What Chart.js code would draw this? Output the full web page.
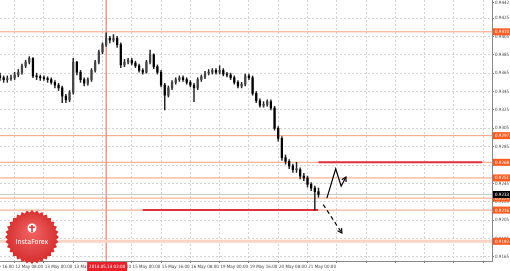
<!DOCTYPE html>
<html>
<head>
<meta charset="utf-8">
<script src="https://cdn.jsdelivr.net/npm/chart.js@4/dist/chart.umd.min.js"></script>
<style>
  html, body { margin: 0; padding: 0; background: #fff; }
  #wrap { width: 510px; height: 271px; }
</style>
</head>
<body>
<div id="wrap"><canvas id="chart"></canvas></div>
<script>
// H2 bars, USD/CHF, 11 May 16:00 -> 21 May 00:00
const opens = [
  0.9362, 0.9360, 0.9358, 0.9359, 0.9360, 0.9363, 0.9366, 0.9373, 0.9377, 0.9381,
  0.9362, 0.9361, 0.9360, 0.9359, 0.9358, 0.9355, 0.9352, 0.9349, 0.9340, 0.9336,
  0.9344, 0.9377, 0.9366, 0.9358, 0.9354, 0.9358, 0.9368, 0.9377, 0.9388, 0.9396,
  0.9403, 0.9401, 0.9403, 0.9396, 0.9374, 0.9377, 0.9379, 0.9376, 0.9373, 0.9368,
  0.9366, 0.9377, 0.9385, 0.9372, 0.9366, 0.9352, 0.9341, 0.9349, 0.9355, 0.9358,
  0.9360, 0.9358, 0.9355, 0.9352, 0.9349, 0.9358, 0.9361, 0.9365, 0.9366, 0.9368,
  0.9366, 0.9368, 0.9364, 0.9363, 0.9360, 0.9355, 0.9351, 0.9353, 0.9362, 0.9360,
  0.9343, 0.9335, 0.9330, 0.9331, 0.9334, 0.9327, 0.9305, 0.9294, 0.9273, 0.9269,
  0.9264, 0.9260, 0.9260, 0.9253, 0.9251, 0.9244, 0.9240, 0.9236
];
const highs = [
  0.9365, 0.9362, 0.9362, 0.9363, 0.9366, 0.9369, 0.9375, 0.9379, 0.9383, 0.9382,
  0.9365, 0.9363, 0.9362, 0.9361, 0.9360, 0.9357, 0.9354, 0.9351, 0.9342, 0.9346,
  0.9381, 0.9378, 0.9368, 0.9360, 0.9360, 0.9370, 0.9379, 0.9390, 0.9398, 0.9409,
  0.9405, 0.9407, 0.9405, 0.9398, 0.9380, 0.9381, 0.9381, 0.9378, 0.9375, 0.9370,
  0.9379, 0.9390, 0.9386, 0.9374, 0.9368, 0.9354, 0.9351, 0.9357, 0.9360, 0.9362,
  0.9362, 0.9360, 0.9357, 0.9354, 0.9360, 0.9363, 0.9367, 0.9369, 0.9370, 0.9370,
  0.9373, 0.9370, 0.9366, 0.9365, 0.9362, 0.9357, 0.9355, 0.9364, 0.9364, 0.9362,
  0.9345, 0.9337, 0.9334, 0.9336, 0.9336, 0.9329, 0.9307, 0.9296, 0.9276, 0.9271,
  0.9266, 0.9268, 0.9262, 0.9256, 0.9253, 0.9246, 0.9242, 0.9240
];
const lows = [
  0.9357, 0.9355, 0.9355, 0.9357, 0.9358, 0.9361, 0.9364, 0.9371, 0.9375, 0.9360,
  0.9358, 0.9357, 0.9357, 0.9355, 0.9353, 0.9349, 0.9346, 0.9333, 0.9333, 0.9334,
  0.9342, 0.9363, 0.9355, 0.9351, 0.9352, 0.9356, 0.9366, 0.9375, 0.9386, 0.9394,
  0.9398, 0.9399, 0.9393, 0.9371, 0.9372, 0.9375, 0.9374, 0.9371, 0.9366, 0.9364,
  0.9365, 0.9375, 0.9370, 0.9364, 0.9350, 0.9325, 0.9339, 0.9347, 0.9353, 0.9356,
  0.9356, 0.9353, 0.9350, 0.9334, 0.9347, 0.9356, 0.9359, 0.9363, 0.9364, 0.9364,
  0.9364, 0.9362, 0.9361, 0.9358, 0.9353, 0.9349, 0.9349, 0.9351, 0.9358, 0.9341,
  0.9333, 0.9328, 0.9328, 0.9329, 0.9325, 0.9303, 0.9291, 0.9270, 0.9266, 0.9261,
  0.9257, 0.9257, 0.9250, 0.9248, 0.9241, 0.9237, 0.9216, 0.9230
];
const closes = [
  0.9360, 0.9358, 0.9359, 0.9360, 0.9363, 0.9366, 0.9373, 0.9377, 0.9381, 0.9362,
  0.9361, 0.9360, 0.9359, 0.9358, 0.9355, 0.9352, 0.9349, 0.9340, 0.9336, 0.9344,
  0.9377, 0.9366, 0.9358, 0.9354, 0.9358, 0.9368, 0.9377, 0.9388, 0.9396, 0.9403,
  0.9401, 0.9403, 0.9396, 0.9374, 0.9377, 0.9379, 0.9376, 0.9373, 0.9368, 0.9366,
  0.9377, 0.9385, 0.9372, 0.9366, 0.9352, 0.9341, 0.9349, 0.9355, 0.9358, 0.9360,
  0.9358, 0.9355, 0.9352, 0.9349, 0.9358, 0.9361, 0.9365, 0.9366, 0.9368, 0.9366,
  0.9368, 0.9364, 0.9363, 0.9360, 0.9355, 0.9351, 0.9353, 0.9362, 0.9360, 0.9343,
  0.9335, 0.9330, 0.9331, 0.9334, 0.9327, 0.9305, 0.9294, 0.9273, 0.9269, 0.9264,
  0.9260, 0.9260, 0.9253, 0.9251, 0.9244, 0.9240, 0.9236, 0.9233
];

// axis
const gridBars = [0, 8, 16, 24, 32, 40, 48, 56, 64, 72, 80, 88, 96, 104, 112, 120, 128];
const timeLabels = ['11 May 16:00', '12 May 08:00', '13 May 00:00', '13 May 16:00', '14 May 08:00',
  '15 May 00:00', '15 May 16:00', '16 May 08:00', '19 May 00:00', '19 May 16:00', '20 May 08:00', '21 May 00:00'];
const priceTicks = [0.9165, 0.9185, 0.9205, 0.9225, 0.9245, 0.9265, 0.9285, 0.9305, 0.9325,
  0.9345, 0.9365, 0.9385, 0.9405, 0.9425, 0.9442];

// drawn objects
const levels = [0.9410, 0.9297, 0.9268, 0.9251, 0.9229, 0.9216];
const paleLevels = [0.9182];
const bidPrice = 0.9233;
const segLevels = [0.9268, 0.9216];
const segFrom = [87, 39];
const segTo = [131.7, 86.9];
const crossBar = 29;
const crossLabel = '2014.05.14 02:00';
const solidArrowX = [89.3, 91.7, 93.2, 94.5];
const solidArrowY = [0.9229, 0.9261, 0.9242, 0.9252];
const dashArrowX = [88.3, 93.4];
const dashArrowY = [0.9222, 0.9191];

const wickData = lows.map((l, i) => ({ x: i, y: [l, highs[i]] }));
const bodyData = opens.map((o, i) => ({ x: i, y: [o, closes[i]] }));
const bodyColors = opens.map((o, i) => closes[i] >= o ? '#444' : '#000');

const tiny = { family: 'DejaVu Sans Condensed', size: 4.5 };

function arrowHead(ctx, x1, y1, x2, y2) {
  const a = Math.atan2(y2 - y1, x2 - x1);
  ctx.beginPath();
  ctx.moveTo(x2 - 5 * Math.cos(a - 0.5), y2 - 5 * Math.sin(a - 0.5));
  ctx.lineTo(x2, y2);
  ctx.lineTo(x2 - 5 * Math.cos(a + 0.5), y2 - 5 * Math.sin(a + 0.5));
  ctx.stroke();
}

function tag(ctx, x, y, text, bg) {
  ctx.fillStyle = bg;
  ctx.fillRect(x, y - 3.5, 18, 7);
  ctx.fillStyle = '#fff';
  ctx.font = '4.5px "DejaVu Sans Condensed"';
  ctx.textAlign = 'left';
  ctx.textBaseline = 'middle';
  ctx.fillText(text, x + 2, y + 0.3);
}

const overlay = {
  id: 'overlay',
  beforeDatasetsDraw(chart) {
    const { ctx, chartArea: ca, scales: { x, y } } = chart;
    ctx.save();
    ctx.beginPath();
    ctx.rect(ca.left, ca.top, ca.right - ca.left, ca.bottom - ca.top);
    ctx.clip();
    // crosshair
    const cx = x.getPixelForValue(crossBar);
    ctx.strokeStyle = '#e86060';
    ctx.lineWidth = 1;
    ctx.beginPath();
    ctx.moveTo(cx, ca.top);
    ctx.lineTo(cx, ca.bottom);
    ctx.stroke();
    // bid line
    const by = y.getPixelForValue(bidPrice);
    ctx.strokeStyle = '#c8c8c8';
    ctx.beginPath();
    ctx.moveTo(ca.left, by);
    ctx.lineTo(ca.right, by);
    ctx.stroke();
    // levels
    ctx.strokeStyle = '#fcd3c4';
    ctx.lineWidth = 3;
    paleLevels.forEach(v => {
      const py = y.getPixelForValue(v);
      ctx.beginPath();
      ctx.moveTo(ca.left, py);
      ctx.lineTo(ca.right, py);
      ctx.stroke();
    });
    ctx.strokeStyle = '#f4a080';
    ctx.lineWidth = 1;
    levels.forEach(v => {
      const py = y.getPixelForValue(v);
      ctx.beginPath();
      ctx.moveTo(ca.left, py);
      ctx.lineTo(ca.right, py);
      ctx.stroke();
    });
    ctx.strokeStyle = '#e0303a';
    ctx.lineWidth = 2;
    segLevels.forEach((v, i) => {
      const py = y.getPixelForValue(v);
      ctx.beginPath();
      ctx.moveTo(x.getPixelForValue(segFrom[i]), py);
      ctx.lineTo(x.getPixelForValue(segTo[i]), py);
      ctx.stroke();
    });
    ctx.restore();
  },
  afterDatasetsDraw(chart) {
    const { ctx, scales: { x, y } } = chart;
    ctx.save();
    ctx.strokeStyle = '#000';
    ctx.lineWidth = 1.2;
    // solid zigzag arrow
    const sp = solidArrowX.map((v, i) => [x.getPixelForValue(v), y.getPixelForValue(solidArrowY[i])]);
    ctx.beginPath();
    sp.forEach((p, i) => i ? ctx.lineTo(p[0], p[1]) : ctx.moveTo(p[0], p[1]));
    ctx.stroke();
    const n = sp.length;
    arrowHead(ctx, sp[n - 2][0], sp[n - 2][1], sp[n - 1][0], sp[n - 1][1]);
    // dashed arrow
    const dp = dashArrowX.map((v, i) => [x.getPixelForValue(v), y.getPixelForValue(dashArrowY[i])]);
    ctx.setLineDash([4, 3]);
    ctx.beginPath();
    dp.forEach((p, i) => i ? ctx.lineTo(p[0], p[1]) : ctx.moveTo(p[0], p[1]));
    ctx.stroke();
    ctx.setLineDash([]);
    arrowHead(ctx, dp[0][0], dp[0][1], dp[1][0], dp[1][1]);
    ctx.restore();
  },
  afterDraw(chart) {
    const { ctx, chartArea: ca, scales: { x, y } } = chart;
    ctx.save();
    // price tags on the axis
    levels.concat(paleLevels).forEach(v => tag(ctx, ca.right + 1, y.getPixelForValue(v), v.toFixed(4), '#ff5a1f'));
    tag(ctx, ca.right + 1, y.getPixelForValue(bidPrice), bidPrice.toFixed(4), '#000');
    // crosshair time tag
    const cx = x.getPixelForValue(crossBar);
    ctx.fillStyle = '#e8202a';
    ctx.fillRect(cx - 19, ca.bottom + 1, 40, 9);
    ctx.fillStyle = '#fff';
    ctx.font = '4.5px "DejaVu Sans Condensed"';
    ctx.textAlign = 'center';
    ctx.textBaseline = 'middle';
    ctx.fillText(crossLabel, cx + 1, ca.bottom + 5.5);
    // InstaForex badge
    const lx = 32, ly = 237;
    const g = ctx.createRadialGradient(lx, ly - 6, 3, lx, ly, 28);
    g.addColorStop(0, '#f06060');
    g.addColorStop(1, '#d42c2c');
    ctx.fillStyle = g;
    ctx.beginPath();
    for (let k = 0; k < 64; k++) {
      const r = k % 2 ? 24.5 : 27;
      const a = k * Math.PI / 32;
      const px = lx + r * Math.cos(a), py = ly + r * Math.sin(a);
      k ? ctx.lineTo(px, py) : ctx.moveTo(px, py);
    }
    ctx.closePath();
    ctx.fill();
    ctx.fillStyle = '#fff';
    ctx.beginPath();
    ctx.arc(lx, ly - 9, 4.5, 0, Math.PI * 2);
    ctx.fill();
    ctx.fillStyle = '#d83838';
    ctx.fillRect(lx - 0.8, ly - 12, 1.6, 7);
    ctx.fillRect(lx - 3, ly - 10.5, 6, 1.4);
    ctx.fillStyle = '#fff';
    ctx.font = '7px "DejaVu Sans Condensed"';
    ctx.textAlign = 'center';
    ctx.textBaseline = 'middle';
    ctx.fillText('InstaForex', lx, ly + 5);
    ctx.restore();
  }
};

new Chart(document.getElementById('chart'), {
  type: 'bar',
  data: {
    datasets: [
      { data: bodyData, backgroundColor: bodyColors, barThickness: 1.6, minBarLength: 1, grouped: false, order: 0 },
      { data: wickData, backgroundColor: '#222', barThickness: 0.8, grouped: false, order: 1 }
    ]
  },
  options: {
    responsive: true,
    maintainAspectRatio: false,
    animation: false,
    layout: { padding: 0 },
    plugins: { legend: { display: false }, tooltip: { enabled: false } },
    scales: {
      x: {
        type: 'linear',
        min: 0,
        max: 134.4,
        offset: false,
        afterBuildTicks: s => { s.ticks = gridBars.map(v => ({ value: v })); },
        afterFit: s => { s.height = 10; s.paddingLeft = 0; s.paddingRight = 0; },
        ticks: {
          autoSkip: false,
          maxRotation: 0,
          padding: 1,
          color: '#444',
          font: tiny,
          callback: v => timeLabels[v / 8] || ''
        },
        grid: { color: '#d4d4d4', tickColor: '#777', tickLength: 2 },
        border: { color: '#888', dash: [2, 2] }
      },
      y: {
        position: 'right',
        min: 0.91606,
        max: 0.94446,
        afterBuildTicks: s => { s.ticks = priceTicks.map(v => ({ value: v })); },
        afterFit: s => { s.width = 18; s.paddingTop = 0; s.paddingBottom = 0; },
        ticks: {
          padding: 1,
          color: '#444',
          font: tiny,
          callback: v => v.toFixed(4)
        },
        grid: {
          color: c => c.tick && c.tick.value === 0.9442 ? 'rgba(0,0,0,0)' : '#d4d4d4',
          tickColor: '#777',
          tickLength: 2
        },
        border: { color: '#888', dash: [2, 2] }
      }
    }
  },
  plugins: [overlay]
});
</script>
</body>
</html>
